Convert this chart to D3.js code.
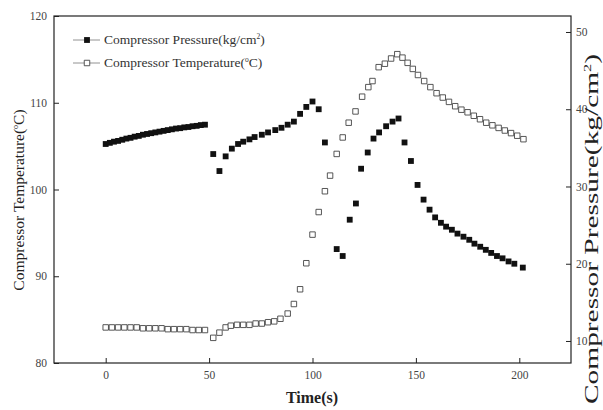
<!DOCTYPE html>
<html>
<head>
<meta charset="utf-8">
<script src="https://cdn.jsdelivr.net/npm/d3@7"></script>
<style>
  html, body { margin: 0; padding: 0; background: #fff; }
  svg { display: block; }
  text { font-family: "Liberation Serif", "Times New Roman", serif; }
</style>
</head>
<body>
<svg id="chart" width="603" height="410"></svg>
<script>
// ---- Data ----
const tempTime = [0,3,6,9,12,15,18,21,24,27,30,33,36,39,42,45,48,
  52,55,58,60.5,63.5,66.5,69.5,72.5,75.5,78.5,81.5,84.5,88,91,94,97,100,103,106,108.5,111.7,114.6,117.5,120.8,124,127,129,132,135,138,141,
  143.5,146,148.5,151,154,157,160,163,166,169,172,175,178,181,184,187,190,193,196,199,202];
const tempValue = [84.1,84.1,84.1,84.1,84.1,84.1,84.0,84.0,84.0,84.0,83.9,83.9,83.9,83.9,83.8,83.8,83.8,
  82.9,83.5,84.1,84.3,84.4,84.4,84.4,84.55,84.55,84.7,84.8,85.1,85.7,86.8,88.5,91.5,94.8,97.4,99.8,101.6,104.1,106.0,107.7,109.0,110.7,111.8,112.5,114.1,114.5,115.1,115.6,
  115.2,114.6,113.9,113.2,112.5,111.8,111.1,110.6,110.1,109.6,109.2,108.9,108.5,108.1,107.7,107.4,107.1,106.8,106.5,106.2,105.8];

const presTime = [0,2,4,6,8,10,12,14,16,18,20,22,24,26,28,30,32,34,36,38,40,42,44,46,48,
  52,55,58,61,64,66.5,69.5,72,75.5,78.5,82,85,88,91,94,97,100,103,106,111.7,114.6,118,121,123.5,126.7,129.5,132.2,135.6,138.7,141.6,
  144.5,147.6,150.8,153.7,156.6,159.3,162.1,164.6,167.4,170.1,173,175.8,178.3,181.1,183.8,186.4,189.2,191.9,194.8,197.6,201.7];
const presValue = [35.5,35.65,35.8,35.9,36.05,36.2,36.3,36.45,36.55,36.7,36.8,36.9,37.0,37.1,37.2,37.3,37.4,37.5,37.55,37.65,37.7,37.8,37.85,37.95,38.0,
  34.2,32.0,33.9,34.9,35.5,35.8,36.1,36.4,36.7,37.0,37.3,37.6,38.0,38.4,39.4,40.3,41.0,40.0,35.7,21.9,21.0,25.7,27.8,32.3,34.4,36.2,37.0,37.8,38.4,38.8,
  35.7,33.3,30.2,28.3,27.0,26.0,25.3,24.8,24.4,23.9,23.5,23.1,22.6,22.2,21.8,21.4,21.0,20.7,20.3,20.0,19.5];

const xTicks = [0,50,100,150,200];
const leftTicks = [80,90,100,110,120];
const rightTicks = [10,20,30,40,50];

const xTitle = "Time(s)";
const seriesNames = ["Compressor Pressure", "Compressor Temperature"];

// ---- Layout ----
const svg = d3.select("#chart");
const L = 54, R = 571, T = 16, B = 363;

const x = d3.scaleLinear().domain([-25, 225]).range([L, R]);
const yL = d3.scaleLinear().domain([80, 120]).range([B, T]);
const yR = d3.scaleLinear().domain([7.15, 52.07]).range([B, T]);

const tempData = tempTime.map((t, i) => ({t, v: tempValue[i]}));
const presData = presTime.map((t, i) => ({t, v: presValue[i]}));

// axes
const gx = svg.append("g").attr("transform", `translate(0,${B})`)
  .call(d3.axisBottom(x).tickValues(xTicks).tickSizeInner(-5).tickSizeOuter(0).tickPadding(8));
const gl = svg.append("g").attr("transform", `translate(${L},0)`)
  .call(d3.axisLeft(yL).tickValues(leftTicks).tickSizeInner(-5).tickSizeOuter(0).tickPadding(7));
const gr = svg.append("g").attr("transform", `translate(${R},0)`)
  .call(d3.axisRight(yR).tickValues(rightTicks).tickSizeInner(-5).tickSizeOuter(0).tickPadding(5));
[gx, gl, gr].forEach(g => {
  g.select(".domain").remove();
  g.selectAll(".tick line").attr("stroke", "#222").attr("stroke-width", 1);
  g.selectAll(".tick text").attr("fill", "#444")
    .style("font-family", "'Liberation Serif', serif").style("font-size", "11.5px");
});

// frame
svg.append("rect").attr("x", L).attr("y", T).attr("width", R - L).attr("height", B - T)
  .attr("fill", "none").attr("stroke", "#222").attr("stroke-width", 1.2);

const sq = d3.symbol(d3.symbolSquare, 34);
// pressure markers (filled)
svg.append("g").selectAll("path").data(presData).join("path")
  .attr("d", sq).attr("transform", d => `translate(${x(d.t)},${yR(d.v)})`)
  .attr("fill", "#111");
// temperature markers (hollow)
svg.append("g").selectAll("path").data(tempData).join("path")
  .attr("d", d3.symbol(d3.symbolSquare, 30)).attr("transform", d => `translate(${x(d.t)},${yL(d.v)})`)
  .attr("fill", "#fff").attr("stroke", "#444").attr("stroke-width", 0.9);

// legend
const leg = svg.append("g");
const legRows = [
  {y: 40, filled: true, name: seriesNames[0], unit: "(kg/cm", sup: "2", tail: ")"},
  {y: 63, filled: false, name: seriesNames[1], unit: "(", sup: "o", tail: "C)"}
];
legRows.forEach(r => {
  leg.append("line").attr("x1", 73).attr("x2", 100).attr("y1", r.y).attr("y2", r.y)
    .attr("stroke", "#777").attr("stroke-width", 0.8);
  leg.append("path").attr("d", d3.symbol(d3.symbolSquare, r.filled ? 34 : 30))
    .attr("transform", `translate(87,${r.y})`)
    .attr("fill", r.filled ? "#111" : "#fff").attr("stroke", r.filled ? "none" : "#444").attr("stroke-width", 0.9);
  const t = leg.append("text").attr("x", 104).attr("y", r.y + 4).style("font-size", "13.5px").attr("fill", "#333");
  t.append("tspan").text(r.name + r.unit);
  t.append("tspan").text(r.sup).attr("dy", -5).style("font-size", "7.5px");
  t.append("tspan").text(r.tail).attr("dy", 5);
});

// axis titles
svg.append("text").attr("x", 312).attr("y", 403).attr("text-anchor", "middle")
  .style("font-size", "16px").style("font-weight", "bold").attr("fill", "#222").text(xTitle);

const lt = svg.append("text").attr("transform", "translate(24,200) rotate(-90)").attr("text-anchor", "middle")
  .style("font-size", "15.5px").attr("fill", "#222");
lt.append("tspan").text("Compressor Temperature(");
lt.append("tspan").text("o").attr("dy", -6).style("font-size", "8px");
lt.append("tspan").text("C)").attr("dy", 6);

const rt = svg.append("text").attr("transform", "translate(598,404) rotate(-90)").attr("text-anchor", "start")
  .attr("textLength", 350).attr("lengthAdjust", "spacingAndGlyphs")
  .style("font-size", "19px").attr("fill", "#222");
rt.append("tspan").text("Compressor Pressure(kg/cm");
rt.append("tspan").text("2").attr("dy", -7).style("font-size", "10.5px");
rt.append("tspan").text(")").attr("dy", 7);
</script>
</body>
</html>
